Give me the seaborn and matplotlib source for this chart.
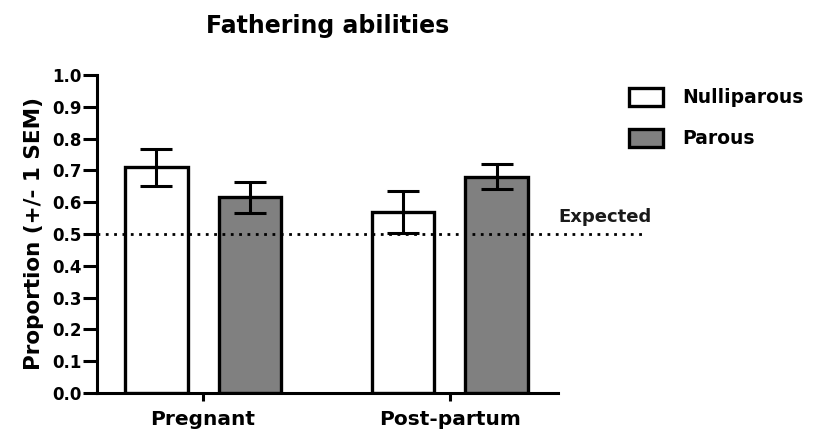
import matplotlib
matplotlib.use("Agg")
import matplotlib.pyplot as plt
import seaborn as sns
import pandas as pd
import numpy as np

# Proportions and SEMs per condition and group
conditions = ["Pregnant", "Post-partum"]
groups = ["Nulliparous", "Parous"]
nulliparous_mean = [0.71, 0.57]
nulliparous_sem = [0.058, 0.066]
parous_mean = [0.615, 0.68]
parous_sem = [0.048, 0.040]
expected = 0.5
y_ticks = [round(0.1 * i, 1) for i in range(11)]

df = pd.DataFrame({
    "condition": conditions * 2,
    "group": [groups[0]] * 2 + [groups[1]] * 2,
    "proportion": nulliparous_mean + parous_mean,
    "sem": nulliparous_sem + parous_sem,
})

sns.set_style("ticks")
plt.rcParams["font.family"] = ["DejaVu Sans"]
plt.rcParams["font.weight"] = "bold"
plt.rcParams.update({
    "text.color": "black",
    "axes.labelcolor": "black",
    "axes.edgecolor": "black",
    "xtick.color": "black",
    "ytick.color": "black",
})

fig = plt.figure(figsize=(8.19, 4.32), dpi=100)
ax = fig.add_axes([0.1184, 0.0903, 0.5627, 0.7361])

palette = {"Nulliparous": "white", "Parous": "#808080"}
sns.barplot(data=df, x="condition", y="proportion", hue="group",
            order=conditions, hue_order=groups, palette=palette,
            width=0.76, gap=0.33, edgecolor="black", linewidth=2.4,
            errorbar=None, legend=True, ax=ax)

# SEM error bars, placed on the drawn bars
bars = [p for p in ax.patches if p.get_height() > 0][:4]
for bar in bars:
    xc = bar.get_x() + bar.get_width() / 2
    h = bar.get_height()
    row = df[np.isclose(df["proportion"], h)].iloc[0]
    ax.errorbar(xc, h, yerr=row["sem"], fmt="none", ecolor="black",
                elinewidth=2.2, capsize=11.5, capthick=2.2, zorder=5)

# chance level
ax.plot([-0.43, 1.78], [expected, expected], linestyle=(0, (1, 2.0)),
        color="black", linewidth=2.0, clip_on=False, zorder=4)
ax.text(1.44, expected + 0.025, "Expected", fontsize=13, fontweight="bold",
        ha="left", va="bottom", color="#1a1a1a")

ax.set_xlim(-0.43, 1.437)
ax.set_ylim(0, 1.0)
ax.set_yticks(y_ticks)
ax.set_yticklabels([f"{t:.1f}" for t in y_ticks], fontsize=12, fontweight="bold")
ax.set_xticks([0, 1])
ax.set_xticklabels(conditions, fontsize=14.5, fontweight="bold")
ax.set_xlabel("")
ax.set_ylabel("Proportion (+/- 1 SEM)", fontsize=15.5, fontweight="bold", labelpad=6)
ax.set_title("Fathering abilities", fontsize=17, fontweight="bold", pad=30)

for s in ["top", "right"]:
    ax.spines[s].set_visible(False)
for s in ["left", "bottom"]:
    ax.spines[s].set_linewidth(2.2)
    ax.spines[s].set_color("black")
ax.tick_params(axis="both", width=2.2, color="black", labelcolor="black")
ax.tick_params(axis="y", length=10, pad=1)
ax.tick_params(axis="x", length=6, pad=6)

handles, labels = ax.get_legend_handles_labels()
ax.legend(handles, labels, loc="upper left", bbox_to_anchor=(0.747, 0.835),
          bbox_transform=fig.transFigure, frameon=False,
          prop={"size": 13.5, "weight": "bold"}, handlelength=1.85,
          handleheight=1.07, labelspacing=1.15, handletextpad=1.0,
          labelcolor="black")

fig.savefig("out.png", dpi=100)
